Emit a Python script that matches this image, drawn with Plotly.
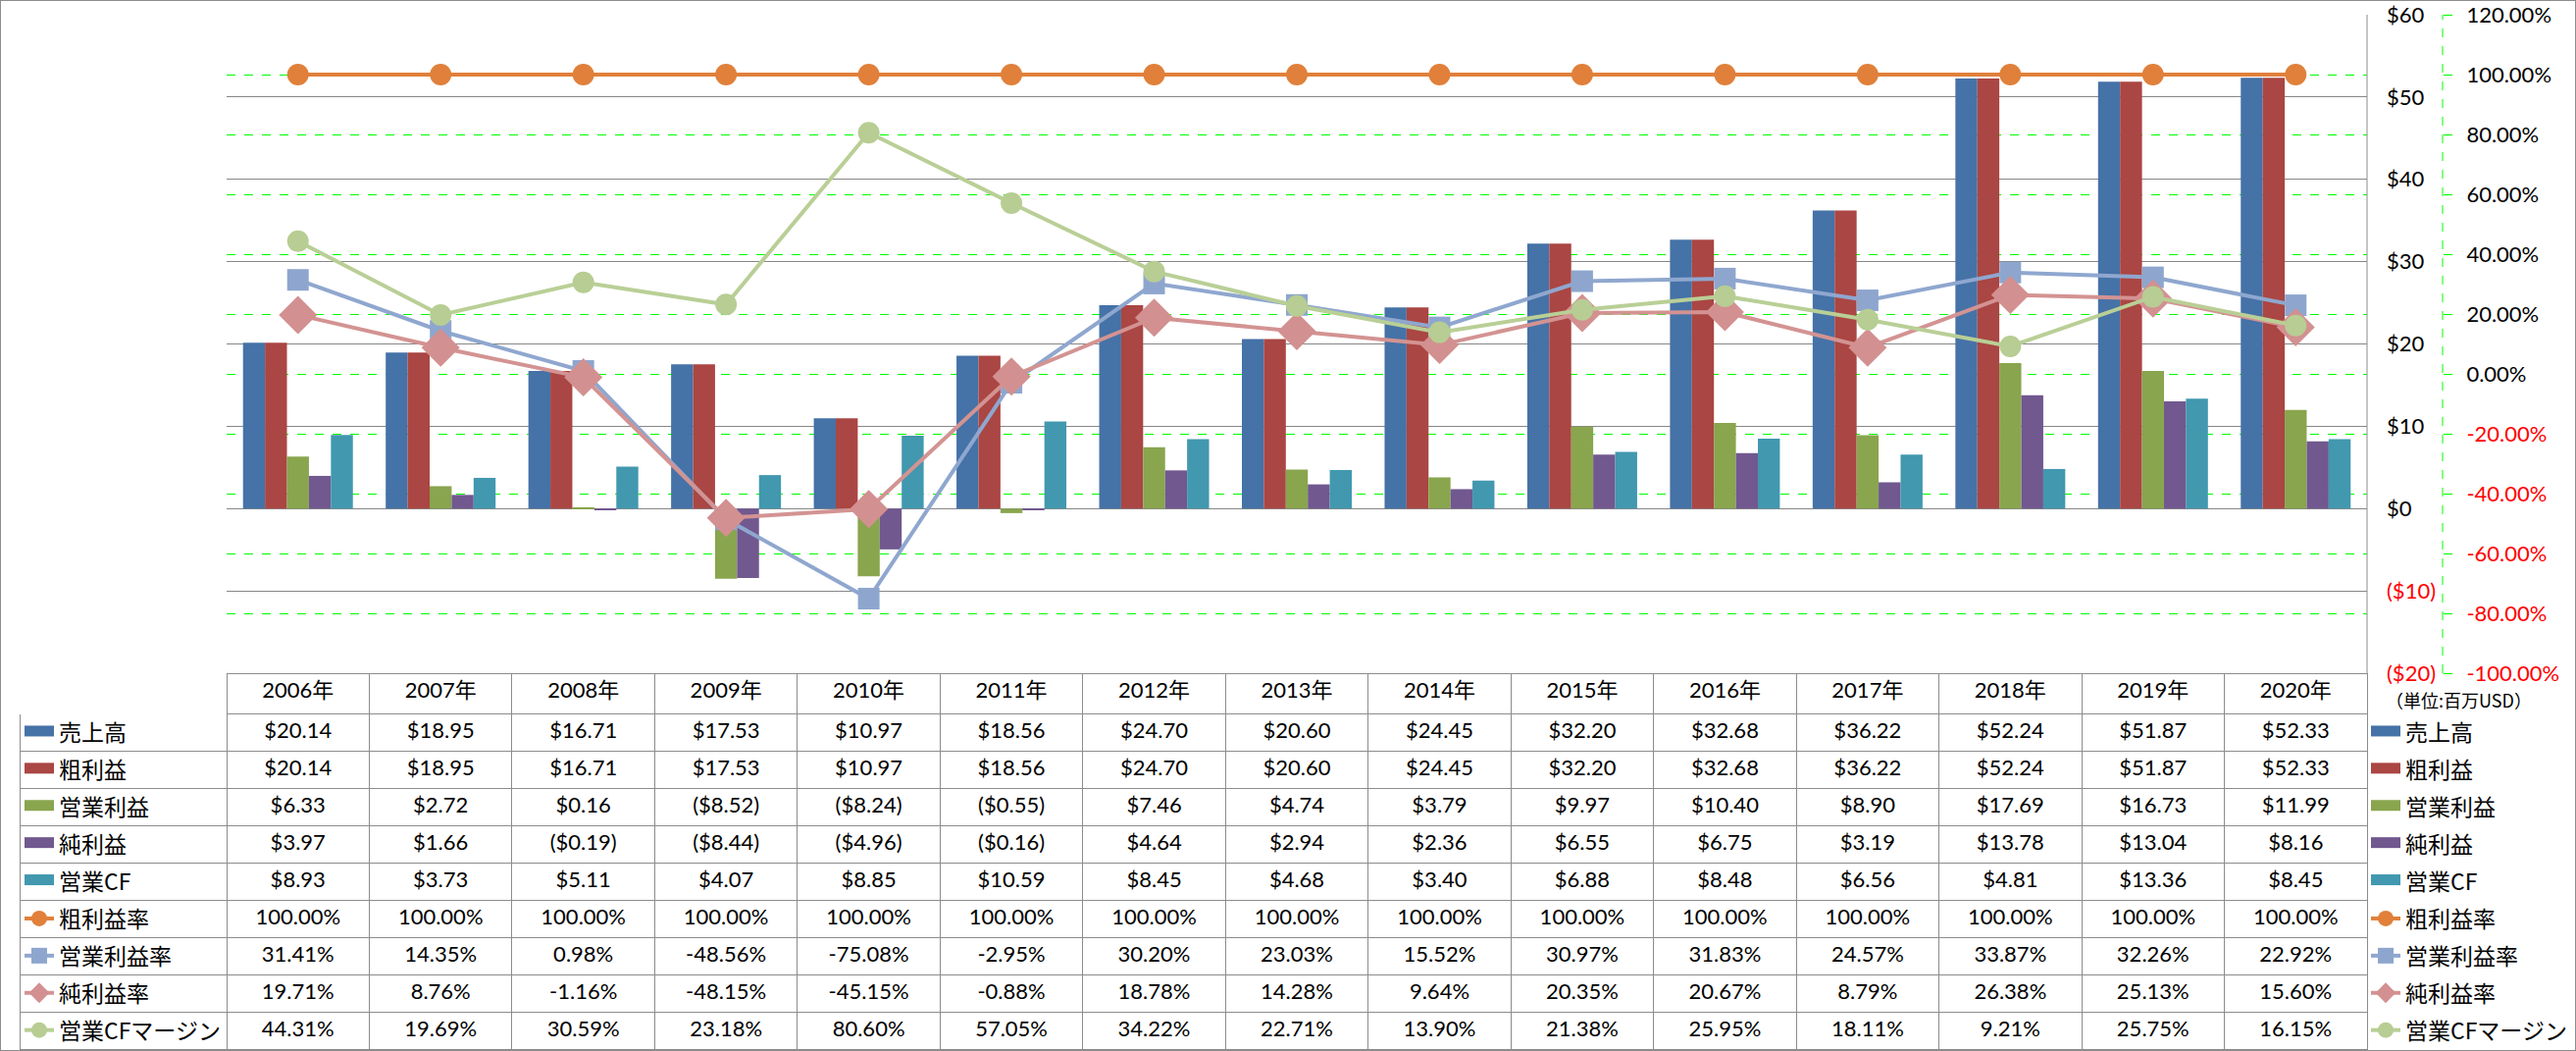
import plotly.graph_objects as go

# ---------------- data ----------------
years = ["2006年", "2007年", "2008年", "2009年", "2010年", "2011年", "2012年", "2013年",
         "2014年", "2015年", "2016年", "2017年", "2018年", "2019年", "2020年"]
sales = [20.14, 18.95, 16.71, 17.53, 10.97, 18.56, 24.70, 20.60, 24.45, 32.20, 32.68, 36.22, 52.24, 51.87, 52.33]
gross_profit = [20.14, 18.95, 16.71, 17.53, 10.97, 18.56, 24.70, 20.60, 24.45, 32.20, 32.68, 36.22, 52.24, 51.87, 52.33]
op_income = [6.33, 2.72, 0.16, -8.52, -8.24, -0.55, 7.46, 4.74, 3.79, 9.97, 10.40, 8.90, 17.69, 16.73, 11.99]
net_income = [3.97, 1.66, -0.19, -8.44, -4.96, -0.16, 4.64, 2.94, 2.36, 6.55, 6.75, 3.19, 13.78, 13.04, 8.16]
op_cf = [8.93, 3.73, 5.11, 4.07, 8.85, 10.59, 8.45, 4.68, 3.40, 6.88, 8.48, 6.56, 4.81, 13.36, 8.45]
gross_margin = [100.00, 100.00, 100.00, 100.00, 100.00, 100.00, 100.00, 100.00, 100.00, 100.00, 100.00, 100.00, 100.00, 100.00, 100.00]
op_margin = [31.41, 14.35, 0.98, -48.56, -75.08, -2.95, 30.20, 23.03, 15.52, 30.97, 31.83, 24.57, 33.87, 32.26, 22.92]
net_margin = [19.71, 8.76, -1.16, -48.15, -45.15, -0.88, 18.78, 14.28, 9.64, 20.35, 20.67, 8.79, 26.38, 25.13, 15.60]
cf_margin = [44.31, 19.69, 30.59, 23.18, 80.60, 57.05, 34.22, 22.71, 13.90, 21.38, 25.95, 18.11, 9.21, 25.75, 16.15]

usd_ticks = [-20, -10, 0, 10, 20, 30, 40, 50, 60]
pct_ticks = [-100, -80, -60, -40, -20, 0, 20, 40, 60, 80, 100, 120]
unit_label = "（単位:百万USD）"

# ---------------- styling ----------------
W, H = 2626, 1071
PLOT_L, PLOT_R, PLOT_T, PLOT_B = 231, 2413, 15, 686
TABLE_L = 20
HEADER_H, ROW_H = 41, 38
LEGEND_TOP = 725

bar_series = [
    ("売上高", sales, "#4572A7"),
    ("粗利益", gross_profit, "#AA4643"),
    ("営業利益", op_income, "#89A54E"),
    ("純利益", net_income, "#71588F"),
    ("営業CF", op_cf, "#4198AF"),
]
line_series = [
    ("粗利益率", gross_margin, "#E0803A", "#E0803A", "circle", 22),
    ("営業利益率", op_margin, "#8FA7CF", "#8EA6CE", "square", 22),
    ("純利益率", net_margin, "#D39392", "#D39090", "diamond", 30),
    ("営業CFマージン", cf_margin, "#B9CF96", "#B7CD93", "circle", 22),
]

RED = "#FF0000"
GRID = "#8C8C8C"


def fmt_usd(v):
    return f"${v:.2f}" if v >= 0 else f"(${-v:.2f})"


def fmt_pct(v):
    return f"{v:.2f}%"


def usd_tick(v):
    s = f"${v}" if v >= 0 else f"(${-v})"
    return s if v >= 0 else f'<span style="color:{RED}">{s}</span>'


def pct_tick(v):
    s = f"{v:.2f}%"
    return s if v >= 0 else f'<span style="color:{RED}">{s}</span>'


fig = go.Figure()

# bars (data)
for name, vals, col in bar_series:
    fig.add_trace(go.Bar(
        x=years, y=vals, name=name, showlegend=False,
        marker=dict(color=col, line=dict(width=0)),
        xaxis="x", yaxis="y",
    ))

# lines (data)
for name, vals, lc, mc, sym, sz in line_series:
    fig.add_trace(go.Scatter(
        x=years, y=vals, name=name, showlegend=False,
        mode="lines+markers",
        line=dict(color=lc, width=4),
        marker=dict(symbol=sym, size=sz, color=mc, line=dict(width=0)),
        xaxis="x", yaxis="y2",
    ))

# legend keys (left: inside the data table's first column, right: beside the table)
for legend_id in ("legend", "legend2"):
    for name, _v, col in bar_series:
        fig.add_trace(go.Scatter(
            x=[None], y=[None], name=name, mode="lines", legend=legend_id,
            legendgroup=legend_id + name,
            fill="toself", fillcolor=col,
            line=dict(color=col, width=12), xaxis="x2", yaxis="y3",
        ))
    for name, _v, lc, mc, sym, sz in line_series:
        fig.add_trace(go.Scatter(
            x=[None], y=[None], name=name, mode="lines+markers", legend=legend_id,
            legendgroup=legend_id + name,
            line=dict(color=lc, width=4),
            marker=dict(symbol=sym, size=sz, color=mc, line=dict(width=0)),
            xaxis="x2", yaxis="y3",
        ))

# ---------------- data table ----------------
columns = [[""] * (len(bar_series) + len(line_series))]
for i in range(len(years)):
    col_vals = [fmt_usd(s[1][i]) for s in bar_series] + [fmt_pct(s[1][i]) for s in line_series]
    columns.append(col_vals)

fig.add_trace(go.Table(
    domain=dict(x=[TABLE_L / W, PLOT_R / W], y=[0, 1 - PLOT_B / H]),
    columnwidth=[PLOT_L - TABLE_L] + [(PLOT_R - PLOT_L) / len(years)] * len(years),
    header=dict(
        values=[""] + years, height=HEADER_H,
        fill=dict(color="white"),
        line=dict(color=["white"] + [GRID] * len(years), width=1),
        font=dict(family="Lato, Noto Sans CJK JP", size=22, color="black"),
        align="center",
    ),
    cells=dict(
        values=columns, height=ROW_H,
        fill=dict(color="white"),
        line=dict(color=GRID, width=1),
        font=dict(family="Lato, Noto Sans CJK JP", size=22, color="black"),
        align=["left"] + ["center"] * len(years),
    ),
))

axis_font = dict(family="Lato, Liberation Sans, sans-serif", size=22, color="black")
legend_common = dict(
    xanchor="left", y=1 - LEGEND_TOP / H, yanchor="top",
    font=dict(family="Noto Sans CJK JP", size=23, color="black"),
    traceorder="grouped", tracegroupgap=5,
    bgcolor="rgba(0,0,0,0)", borderwidth=0, itemwidth=30,
)

fig.update_layout(
    width=W, height=H,
    margin=dict(l=0, r=0, t=0, b=0, autoexpand=False),
    paper_bgcolor="white", plot_bgcolor="white",
    barmode="group", bargap=0.23, bargroupgap=0,
    font=dict(family="Noto Sans CJK JP", color="black"),
    xaxis=dict(
        domain=[PLOT_L / W, PLOT_R / W], type="category", range=[-0.5, len(years) - 0.5],
        showticklabels=False, showgrid=False, zeroline=False, showline=False, ticks="",
        anchor="y",
    ),
    yaxis=dict(
        domain=[1 - PLOT_B / H, 1 - PLOT_T / H], range=[-20, 60],
        tickvals=usd_ticks, ticktext=[usd_tick(v) for v in usd_ticks],
        side="right", anchor="free", position=2432 / W,
        showgrid=True, gridcolor="#878787", gridwidth=1,
        zeroline=False, showline=False, ticks="",
        tickfont=axis_font,
    ),
    yaxis2=dict(
        overlaying="y", range=[-100, 120],
        tickvals=pct_ticks, ticktext=[pct_tick(v) for v in pct_ticks],
        side="right", anchor="free", position=2490 / W,
        showgrid=True, gridcolor="#00FF00", griddash="dash", gridwidth=1,
        zeroline=False, showline=False,
        ticks="outside", ticklen=9, tickcolor="#00FF00", tickwidth=1,
        ticklabelstandoff=10,
        tickfont=axis_font,
    ),
    xaxis2=dict(domain=[0, 0.001], anchor="y3", visible=False),
    yaxis3=dict(domain=[0, 0.001], anchor="x2", visible=False),
    legend=dict(x=2412 / W, **legend_common),
    legend2=dict(x=TABLE_L / W, **legend_common),
    showlegend=True,
    annotations=[dict(
        text=unit_label, xref="paper", yref="paper",
        x=2430 / W, y=1 - 713 / H, xanchor="left", yanchor="middle",
        showarrow=False, font=dict(family="Noto Sans CJK JP", size=18, color="black"),
    )],
    shapes=[
        dict(type="rect", xref="paper", yref="paper", x0=0, y0=0, x1=1, y1=1,
             line=dict(color="#8C8C8C", width=2), fillcolor="rgba(0,0,0,0)", layer="above"),
        dict(type="line", xref="paper", yref="paper", x0=2490 / W, x1=2490 / W,
             y0=1 - PLOT_B / H, y1=1 - PLOT_T / H,
             line=dict(color="#00FF00", width=1, dash="dash")),
        dict(type="line", xref="paper", yref="paper", x0=PLOT_R / W, x1=PLOT_R / W,
             y0=1 - PLOT_B / H, y1=1 - PLOT_T / H,
             line=dict(color=GRID, width=1)),
    ],
)

fig.write_html(
    "out.html",
    config={"displayModeBar": False},
    post_script="document.body.style.margin='0';document.body.style.overflow='hidden';",
)
